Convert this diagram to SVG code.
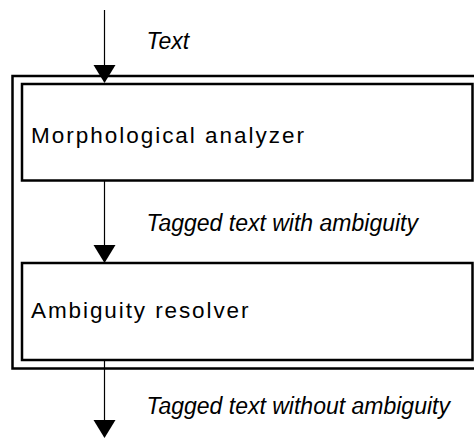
<svg xmlns="http://www.w3.org/2000/svg" width="474" height="438" viewBox="0 0 474 438">
  <style>
    .box { fill: #ffffff; stroke: #000000; stroke-width: 2.5; }
    .frame { fill: none; stroke: #000000; stroke-width: 2.5; }
    .line { stroke: #000000; stroke-width: 1.2; fill: none; }
    .head { fill: #000000; stroke: none; }
    .label { font-family: "Liberation Sans", Arial, sans-serif; font-style: italic; font-size: 23px; fill: #000000; }
    .name { font-family: "Liberation Sans", Arial, sans-serif; font-size: 22.5px; fill: #000000; }
  </style>
  <rect width="474" height="438" fill="#ffffff"/>
  <g id="system">
    <rect class="frame" x="12.5" y="76" width="475" height="292.5"/>
  </g>
  <g id="morph">
    <rect class="box" x="22" y="84" width="450.5" height="96.5"/>
    <text class="name" x="31" y="142.5" textLength="273" lengthAdjust="spacing">Morphological analyzer</text>
  </g>
  <g id="resolver">
    <rect class="box" x="22" y="263" width="450.5" height="97"/>
    <text class="name" x="31" y="318" textLength="217.5" lengthAdjust="spacing">Ambiguity resolver</text>
  </g>
  <g id="connectors">
    <line class="line" x1="104.5" y1="10" x2="104.5" y2="66"/>
    <polygon class="head" points="93.5,65 115.5,65 104.5,83"/>
    <text class="label" x="146.5" y="49">Text</text>
    <line class="line" x1="104.5" y1="181" x2="104.5" y2="246"/>
    <polygon class="head" points="93.5,245 115.5,245 104.5,263"/>
    <text class="label" x="146.5" y="231">Tagged text with ambiguity</text>
    <line class="line" x1="104.5" y1="360" x2="104.5" y2="421"/>
    <polygon class="head" points="93.5,420 115.5,420 104.5,438"/>
    <text class="label" x="146.5" y="413.5">Tagged text without ambiguity</text>
  </g>
</svg>
